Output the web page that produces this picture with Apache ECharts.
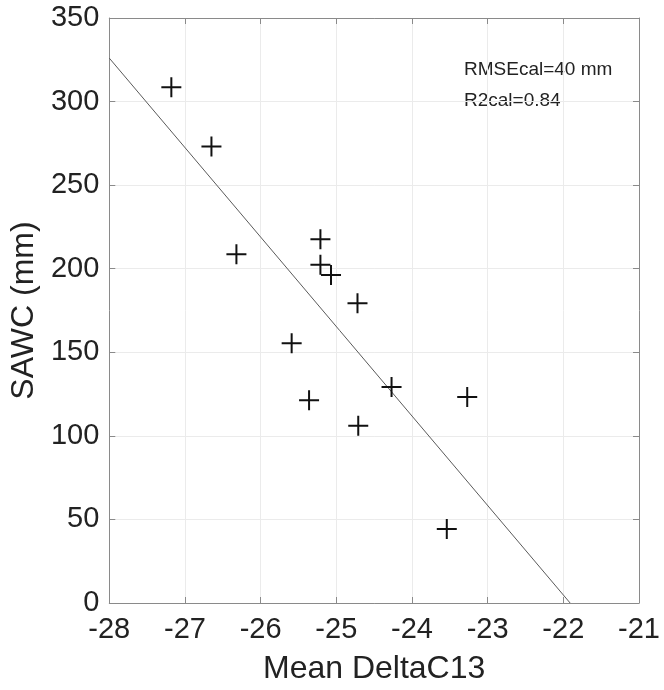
<!DOCTYPE html>
<html>
<head>
<meta charset="utf-8">
<script src="https://cdn.jsdelivr.net/npm/echarts@6/dist/echarts.min.js"></script>
<style>
html,body{margin:0;padding:0;background:#fff;}
#chart{width:664px;height:690px;}
</style>
</head>
<body>
<div id="chart"></div>
<script>
// Data
const meanDeltaC13 = [-27.18, -26.65, -26.32, -25.21, -25.21, -25.07, -24.72, -25.59, -25.36, -24.71, -24.27, -23.27, -23.54];
const sawc =         [308.6, 273.1, 208.7, 217.6, 202.3, 196.3, 179.3, 155.4, 121.3, 106.1, 129.3, 123.3, 44.3];
const fitLineX = [-28, -21.91];
const fitLineY = [326, 0];
const xTicks = [-28, -27, -26, -25, -24, -23, -22, -21];
const yTicks = [0, 50, 100, 150, 200, 250, 300, 350];
const xTitle = 'Mean DeltaC13';
const yTitle = 'SAWC (mm)';
const annotations = ['RMSEcal=40 mm', 'R2cal=0.84'];

const FONT = '"Liberation Sans", Arial, sans-serif';
const axisColor = '#8a8a8a';
const gridColor = '#ebebeb';

const scatterData = meanDeltaC13.map((x, i) => [x, sawc[i]]);
const lineData = fitLineX.map((x, i) => [x, fitLineY[i]]);

const chart = echarts.init(document.getElementById('chart'), null, {renderer: 'canvas'});
const baseX = {
  type: 'value', min: xTicks[0], max: xTicks[xTicks.length - 1], interval: 1,
  axisLine: {show: true, onZero: false, lineStyle: {color: axisColor, width: 1}},
  axisTick: {show: true, inside: true, length: 6, lineStyle: {color: axisColor}},
};
const baseY = {
  type: 'value', min: yTicks[0], max: yTicks[yTicks.length - 1], interval: 50,
  axisLine: {show: true, onZero: false, lineStyle: {color: axisColor, width: 1}},
  axisTick: {show: true, inside: true, length: 6, lineStyle: {color: axisColor}},
};
chart.setOption({
  animation: false,
  backgroundColor: '#fff',
  grid: {left: 108, right: 25, top: 18, bottom: 87, containLabel: false},
  xAxis: [
    Object.assign({}, baseX, {
      position: 'bottom',
      name: xTitle, nameLocation: 'middle', nameGap: 50,
      nameTextStyle: {fontFamily: FONT, fontSize: 32, color: '#222'},
      axisLabel: {fontFamily: FONT, fontSize: 29, color: '#222', margin: 12},
      splitLine: {show: true, lineStyle: {color: gridColor, width: 1}}
    }),
    Object.assign({}, baseX, {
      position: 'top',
      axisLabel: {show: false}, splitLine: {show: false}
    })
  ],
  yAxis: [
    Object.assign({}, baseY, {
      position: 'left',
      name: yTitle, nameLocation: 'middle', nameGap: 64,
      nameTextStyle: {fontFamily: FONT, fontSize: 32, color: '#222'},
      axisLabel: {fontFamily: FONT, fontSize: 29, color: '#222', margin: 10},
      splitLine: {show: true, lineStyle: {color: gridColor, width: 1}}
    }),
    Object.assign({}, baseY, {
      position: 'right',
      axisLabel: {show: false}, splitLine: {show: false}
    })
  ],
  series: [
    {
      type: 'line',
      data: lineData,
      xAxisIndex: 0, yAxisIndex: 0,
      showSymbol: false, symbol: 'none',
      lineStyle: {color: '#5a5a5a', width: 1},
      z: 2
    },
    {
      type: 'scatter',
      data: scatterData,
      xAxisIndex: 0, yAxisIndex: 0,
      symbol: 'path://M0,10L20,10M10,0L10,20',
      symbolSize: 20,
      itemStyle: {color: 'none', borderColor: '#111', borderWidth: 2, opacity: 1},
      z: 3
    }
  ],
  graphic: [
    {type: 'text', left: 464, top: 60, style: {text: annotations[0], font: '19px ' + FONT, fill: '#222'}},
    {type: 'text', left: 464, top: 91, style: {text: annotations[1], font: '19px ' + FONT, fill: '#222'}}
  ]
});
</script>
</body>
</html>
